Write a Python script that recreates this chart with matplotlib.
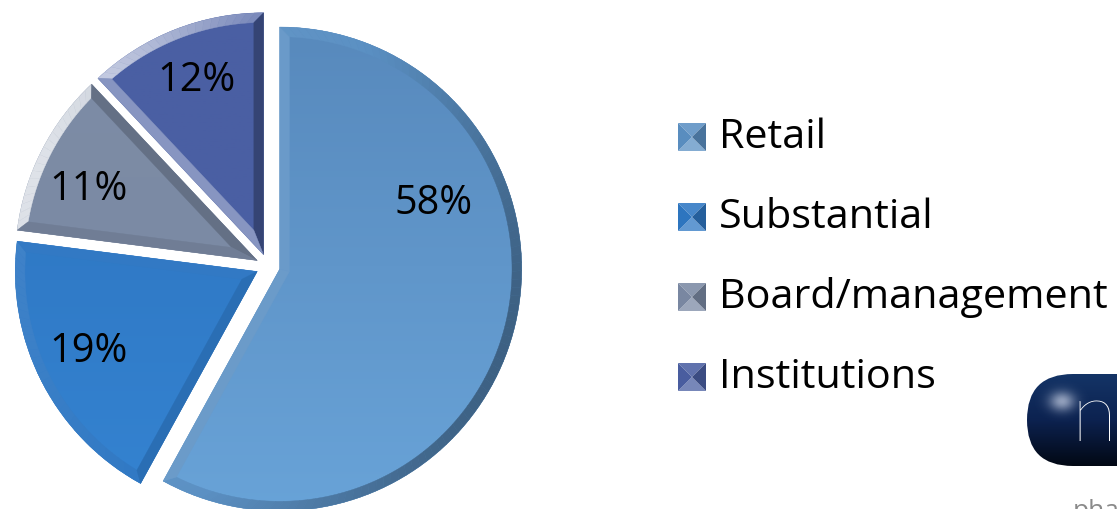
import numpy as np
import matplotlib
matplotlib.use("Agg")
import matplotlib.pyplot as plt
from matplotlib.patches import Polygon, FancyBboxPatch
from matplotlib.colors import to_rgb, LinearSegmentedColormap

# ---- data ----
categories = ["Retail", "Substantial", "Board/management", "Institutions"]
shares = [58, 19, 11, 12]
pct_labels = ["58%", "19%", "11%", "12%"]

# ---- style ----
base_colors = ["#5b90c3", "#2e77c3", "#7b8aa4", "#4a5fa2"]
grad_top = ["#5788bb", "#2b71bc", "#7d8ca6", "#4a5fa3"]
grad_bot = ["#69a4d9", "#3584d2", "#7a89a2", "#4a5fa3"]
light_str = [0.10, 0.08, 0.75, 0.75]
dark_str = [0.33, 0.08, 0.42, 0.30]
label_offsets = [(0.685, 0.26), (-0.74, -0.35), (-0.74, 0.32), (-0.295, 0.77)]
FONT = ["Open Sans", "DejaVu Sans"]

W, H, DPI = 1117, 510, 100
fig = plt.figure(figsize=(W / DPI, H / DPI), dpi=DPI)
fig.patch.set_facecolor("white")

R_PX = 242.0
CX, CY = 268.0, 510 - 267.0
LIM = 1.1
ax = fig.add_axes([(CX - LIM * R_PX) / W, (CY - LIM * R_PX) / H,
                   2 * LIM * R_PX / W, 2 * LIM * R_PX / H])

wedges, _ = ax.pie(shares, startangle=90, counterclock=False,
                   explode=[0.05] * len(shares), colors=base_colors,
                   wedgeprops=dict(linewidth=0))
ax.set_xlim(-LIM, LIM)
ax.set_ylim(-LIM, LIM)
ax.set_aspect("equal")
ax.axis("off")


def shade(col, amt):
    c = np.array(to_rgb(col))
    if amt >= 0:
        return tuple(c + (1 - c) * amt)
    return tuple(c * (1 + amt))


# gradient faces
for w, ct, cb in zip(wedges, grad_top, grad_bot):
    cmap = LinearSegmentedColormap.from_list("g", [cb, ct])
    grad = np.linspace(0, 1, 256).reshape(-1, 1)
    im = ax.imshow(grad, cmap=cmap, extent=(-1.1, 1.1, -1.1, 1.1), origin="lower",
                   aspect="auto", zorder=2)
    im.set_clip_path(w)

light = np.deg2rad(160)
Ldir = np.array([np.cos(light), np.sin(light)])
d = 0.04

for w, col, ls, ds in zip(wedges, base_colors, light_str, dark_str):
    cx, cy = w.center
    r = w.r
    t1, t2 = np.deg2rad(w.theta1), np.deg2rad(w.theta2)
    span = t2 - t1
    bis = (t1 + t2) / 2
    apex = np.array([cx, cy])
    iapex = apex + (d / np.sin(span / 2)) * np.array([np.cos(bis), np.sin(bis)])
    ri = r - d
    delta = np.arcsin(d / ri)

    def facet(pts, nang):
        n = np.array([np.cos(nang), np.sin(nang)])
        dot = float(n @ Ldir)
        amt = ls * dot if dot > 0 else ds * dot
        ax.add_patch(Polygon(pts, closed=True, facecolor=shade(col, amt),
                             edgecolor=shade(col, amt), linewidth=0.3, zorder=3))

    N = max(8, int(np.rad2deg(span) / 2))
    to = np.linspace(t1, t2, N + 1)
    ti = np.linspace(t1 + delta, t2 - delta, N + 1)
    for k in range(N):
        pts = [apex + r * np.array([np.cos(to[k]), np.sin(to[k])]),
               apex + r * np.array([np.cos(to[k + 1]), np.sin(to[k + 1])]),
               apex + ri * np.array([np.cos(ti[k + 1]), np.sin(ti[k + 1])]),
               apex + ri * np.array([np.cos(ti[k]), np.sin(ti[k])])]
        facet(pts, (to[k] + to[k + 1]) / 2)
    facet([apex, apex + r * np.array([np.cos(t1), np.sin(t1)]),
           apex + ri * np.array([np.cos(t1 + delta), np.sin(t1 + delta)]), iapex],
          t1 - np.pi / 2)
    facet([apex, apex + r * np.array([np.cos(t2), np.sin(t2)]),
           apex + ri * np.array([np.cos(t2 - delta), np.sin(t2 - delta)]), iapex],
          t2 + np.pi / 2)

for txt, (lx, ly) in zip(pct_labels, label_offsets):
    ax.text(lx, ly, txt, ha="center", va="center", fontsize=28.5,
            family=FONT, color="black", zorder=5)

# ---- legend (manual, in pixel coordinates) ----
ov = fig.add_axes([0, 0, 1, 1])
ov.set_xlim(0, W)
ov.set_ylim(H, 0)
ov.axis("off")

leg_x, base0, leg_dy, sq = 678, 148, 80.0, 28
for i, (name, col) in enumerate(zip(categories, base_colors)):
    yb = base0 + i * leg_dy
    yc = yb - 10
    x0, x1 = leg_x, leg_x + sq
    y0, y1 = yc - sq / 2, yc + sq / 2
    c = (x0 + sq / 2, yc)
    ov.add_patch(Polygon([(x0, y0), (x1, y0), c], facecolor=shade(col, 0.12), lw=0))
    ov.add_patch(Polygon([(x0, y1), (x1, y1), c], facecolor=shade(col, 0.25), lw=0))
    ov.add_patch(Polygon([(x0, y0), (x0, y1), c], facecolor=shade(col, -0.02), lw=0))
    ov.add_patch(Polygon([(x1, y0), (x1, y1), c], facecolor=shade(col, -0.2), lw=0))
    ov.text(leg_x + 41, yb, name, ha="left", va="baseline", fontsize=29.8,
            family=FONT, color="black")

# ---- logo fragment ----
pill = FancyBboxPatch((1027, 375), 160, 92,
                      boxstyle="round,pad=0,rounding_size=46",
                      facecolor="none", edgecolor="none", zorder=2)
ov.add_patch(pill)
lcmap = LinearSegmentedColormap.from_list("logo", ["#143466", "#0c2250", "#020814"])
lg = np.linspace(0, 1, 128).reshape(-1, 1)
lim = ov.imshow(lg, cmap=lcmap, extent=(1027, 1187, 467, 375), origin="upper",
                aspect="auto", zorder=2)
lim.set_clip_path(pill)
# soft highlight: radial falloff image
gx, gy = np.meshgrid(np.linspace(1027, 1117, 90), np.linspace(375, 467, 92))
rr = np.hypot((gx - 1062) / 13, (gy - 402) / 10)
alpha = np.clip(0.7 * np.exp(-rr ** 2), 0, 1)
rgba = np.zeros(gx.shape + (4,))
rgba[..., :3] = to_rgb("#c9d3e6")
rgba[..., 3] = alpha
hl = ov.imshow(rgba, extent=(1027, 1117, 467, 375), origin="upper",
               aspect="auto", zorder=2.5, interpolation="bilinear")
hl.set_clip_path(pill)
ov.set_xlim(0, W)
ov.set_ylim(H, 0)
ov.text(1071, 441, "n", ha="left", va="baseline", fontsize=60, color="white",
        family=["Lato", "DejaVu Sans"], fontweight="light", zorder=3)
ov.text(1073, 518, "pha", ha="left", va="baseline", fontsize=19, color="#8a8a8a",
        family=FONT, zorder=3)

fig.savefig("out.png", dpi=DPI, facecolor="white")
